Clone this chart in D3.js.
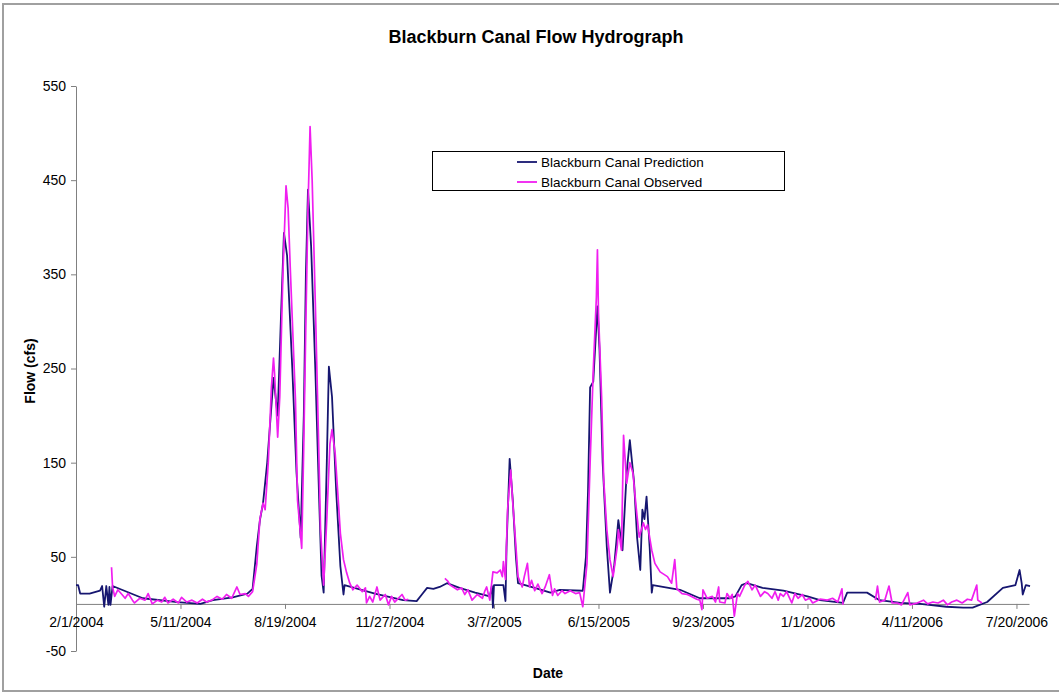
<!DOCTYPE html>
<html><head><meta charset="utf-8">
<script src="https://cdn.jsdelivr.net/npm/d3@7"></script>
<style>
body{margin:0;background:#fff;}
svg{display:block;font-family:"Liberation Sans",Arial,sans-serif;}
</style></head>
<body>
<svg id="chart" width="1059" height="694"></svg>
<script>
// ---------- DATA ----------
const startDate = new Date(2004, 1, 1);
const endDay = 912;
const tickDays = [0,100,200,300,400,500,600,700,800,900];
const tickLabels = ["2/1/2004","5/11/2004","8/19/2004","11/27/2004","3/7/2005","6/15/2005","9/23/2005","1/1/2006","4/11/2006","7/20/2006"];
const yTicks = [-50,50,150,250,350,450,550];
const seriesNames = ["Blackburn Canal Prediction","Blackburn Canal Observed"];

// days since 2/1/2004
const predDays = [0,2,4,13,23,25,27,29,31,32,33,35,64,97,119,131,150,164,169,173,176,179,183,189,193,196,199,202,207,211,215,218,220,222,225,229,233,235,237,240,242,245,249,253,256,257,286,313,326,331,336,342,348,355,367,382,396,398,399,400,409,411,412,415,418,421,423,439,454,463,485,488,490,492,495,499,501,504,508,511,515,519,523,527,530,534,537,540,542,544,546,549,551,552,578,597,626,631,637,642,657,677,700,712,734,738,757,769,789,808,833,849,858,872,887,899,903,905,906,909,913];
const predFlow = [20,20,11,11,14,19,-3,19,-1,18,-1,19,6,2,0,4,7,11,16,61,89,107,150,240,200,300,394,370,250,140,70,200,350,440,380,250,100,30,12,150,252,220,120,40,10,20,11,4,3,10,17,16,18,22,17,12,8,19,-4,20,20,3,60,154,110,50,22,17,12,15,14,50,120,230,236,316,270,150,60,12,40,89,57,140,174,130,70,36,100,90,114,60,12,20,15,6,6,8,20,22,17,14,8,4,1,12,12,4,1,0,-3,-4,-4,2,17,20,36,22,10,20,19];

const obsDays = [34,35,37,40,44,47,50,54,56,61,66,69,73,78,82,85,88,93,98,101,106,111,116,121,125,130,135,140,144,149,154,157,162,165,169,173,176,179,181,184,187,189,190,193,195,198,201,203,205,210,212,216,218,220,222,224,226,229,232,234,237,240,243,245,248,251,253,256,259,262,265,269,274,277,278,281,284,288,291,296,299,302,305,312,315,318,319,353,356,358,361,365,369,372,375,379,384,389,391,393,396,399,403,406,408,409,411,413,416,418,421,423,427,429,432,434,436,439,442,446,449,453,456,458,461,465,468,473,478,482,485,489,492,495,498,499,500,503,505,508,511,514,518,519,522,524,527,530,533,536,539,543,545,547,551,554,559,566,570,573,575,580,585,589,594,597,599,600,604,609,612,615,616,621,623,626,628,630,633,635,640,643,647,650,655,659,662,666,669,672,674,677,680,685,688,691,695,698,702,705,712,719,724,729,733,734,735,765,767,769,774,778,781,786,790,796,798,805,811,815,820,825,830,834,838,843,848,853,857,862,863,867];
const obsFlow = [39,18,8,15,10,6,11,4,1,6,4,11,0,4,2,7,1,5,1,7,2,4,1,5,2,4,8,5,10,6,18,10,11,8,13,42,90,107,100,150,230,261,245,177,220,350,444,420,358,217,110,59,170,300,420,507,450,320,180,80,20,90,170,185,160,110,75,47,33,22,15,20,13,17,1,8,2,18,4,10,-1,8,2,10,4,5,null,27,24,20,18,15,17,10,15,4,10,6,13,18,4,34,33,36,29,45,26,100,142,107,61,29,18,29,43,18,25,14,21,11,18,31,9,16,9,14,11,14,11,12,-3,43,150,248,326,376,309,220,132,79,47,29,61,79,57,179,128,150,139,103,71,86,79,84,57,43,34,29,22,47,16,11,10,8,5,4,-6,15,6,8,2,18,2,1,11,6,10,-13,11,8,20,24,15,20,8,13,11,6,13,4,11,8,13,1,11,6,10,4,6,1,5,4,6,2,16,-1,null,4,19,2,4,19,1,1,-1,12,-1,1,4,0,2,1,4,-1,2,4,1,5,4,20,4,1];

// ---------- CHART ----------
const svg = d3.select("#chart");
const dateOf = d => d3.timeDay.offset(startDate, d);
const x = d3.scaleTime().domain([startDate, dateOf(endDay)]).range([76, 1029]);
const y = d3.scaleLinear().domain([-50, 550]).range([651, 86]);

// outer frame
svg.append("rect").attr("x",3).attr("y",4).attr("width",1062).attr("height",687)
  .attr("fill","none").attr("stroke","#a0a0a0").attr("stroke-width",2);

// title
svg.append("text").attr("x",536).attr("y",43).attr("text-anchor","middle")
  .attr("font-size",18).attr("font-weight","bold").text("Blackburn Canal Flow Hydrograph");

// y axis
const yAxis = d3.axisLeft(y).tickValues(yTicks).tickFormat(d => String(d))
  .tickSize(5).tickSizeOuter(0).tickPadding(5);
const gy = svg.append("g").attr("transform","translate(76,0)").call(yAxis);
gy.select(".domain").attr("stroke","#808080");
gy.selectAll(".tick line").attr("stroke","#808080");
gy.selectAll(".tick text").attr("font-size",14).attr("font-family","Liberation Sans, Arial, sans-serif").attr("fill","#000");

// x axis at y=0
const xAxis = d3.axisBottom(x).tickValues(tickDays.map(dateOf))
  .tickFormat((d,i) => tickLabels[i]).tickSize(5).tickSizeOuter(0).tickPadding(8);
const gx = svg.append("g").attr("transform",`translate(0,${y(0)})`).call(xAxis);
gx.select(".domain").attr("stroke","#808080");
gx.selectAll(".tick line").attr("stroke","#808080");
gx.selectAll(".tick text").attr("font-size",14).attr("font-family","Liberation Sans, Arial, sans-serif").attr("fill","#000");

// axis titles
svg.append("text").attr("x",548).attr("y",678).attr("text-anchor","middle")
  .attr("font-size",14).attr("font-weight","bold").text("Date");
svg.append("text").attr("transform","translate(35,371) rotate(-90)").attr("text-anchor","middle")
  .attr("font-size",14).attr("font-weight","bold").text("Flow (cfs)");

// lines
const line = d3.line().defined(d => d[1] !== null).x(d => x(dateOf(d[0]))).y(d => y(d[1]));
const predData = predDays.map((d,i) => [d, predFlow[i]]);
const obsData = obsDays.map((d,i) => [d, obsFlow[i]]);
const predColor = "#161670", obsColor = "#f01ef0";

svg.append("path").datum(predData).attr("d", line).attr("fill","none")
  .attr("stroke",predColor).attr("stroke-width",1.8).attr("stroke-linejoin","round");
svg.append("path").datum(obsData).attr("d", line).attr("fill","none")
  .attr("stroke",obsColor).attr("stroke-width",1.7).attr("stroke-linejoin","round");

// legend
const lg = svg.append("g");
lg.append("rect").attr("x",432.5).attr("y",151.5).attr("width",352).attr("height",39)
  .attr("fill","#fff").attr("stroke","#000").attr("stroke-width",1);
[predColor, obsColor].forEach((c,i) => {
  const yy = 162 + i*20;
  lg.append("line").attr("x1",517).attr("x2",537).attr("y1",yy).attr("y2",yy)
    .attr("stroke",c).attr("stroke-width",1.8);
  lg.append("text").attr("x",541).attr("y",yy).attr("dy","0.35em")
    .attr("font-size",13.5).text(seriesNames[i]);
});
</script>
</body></html>
